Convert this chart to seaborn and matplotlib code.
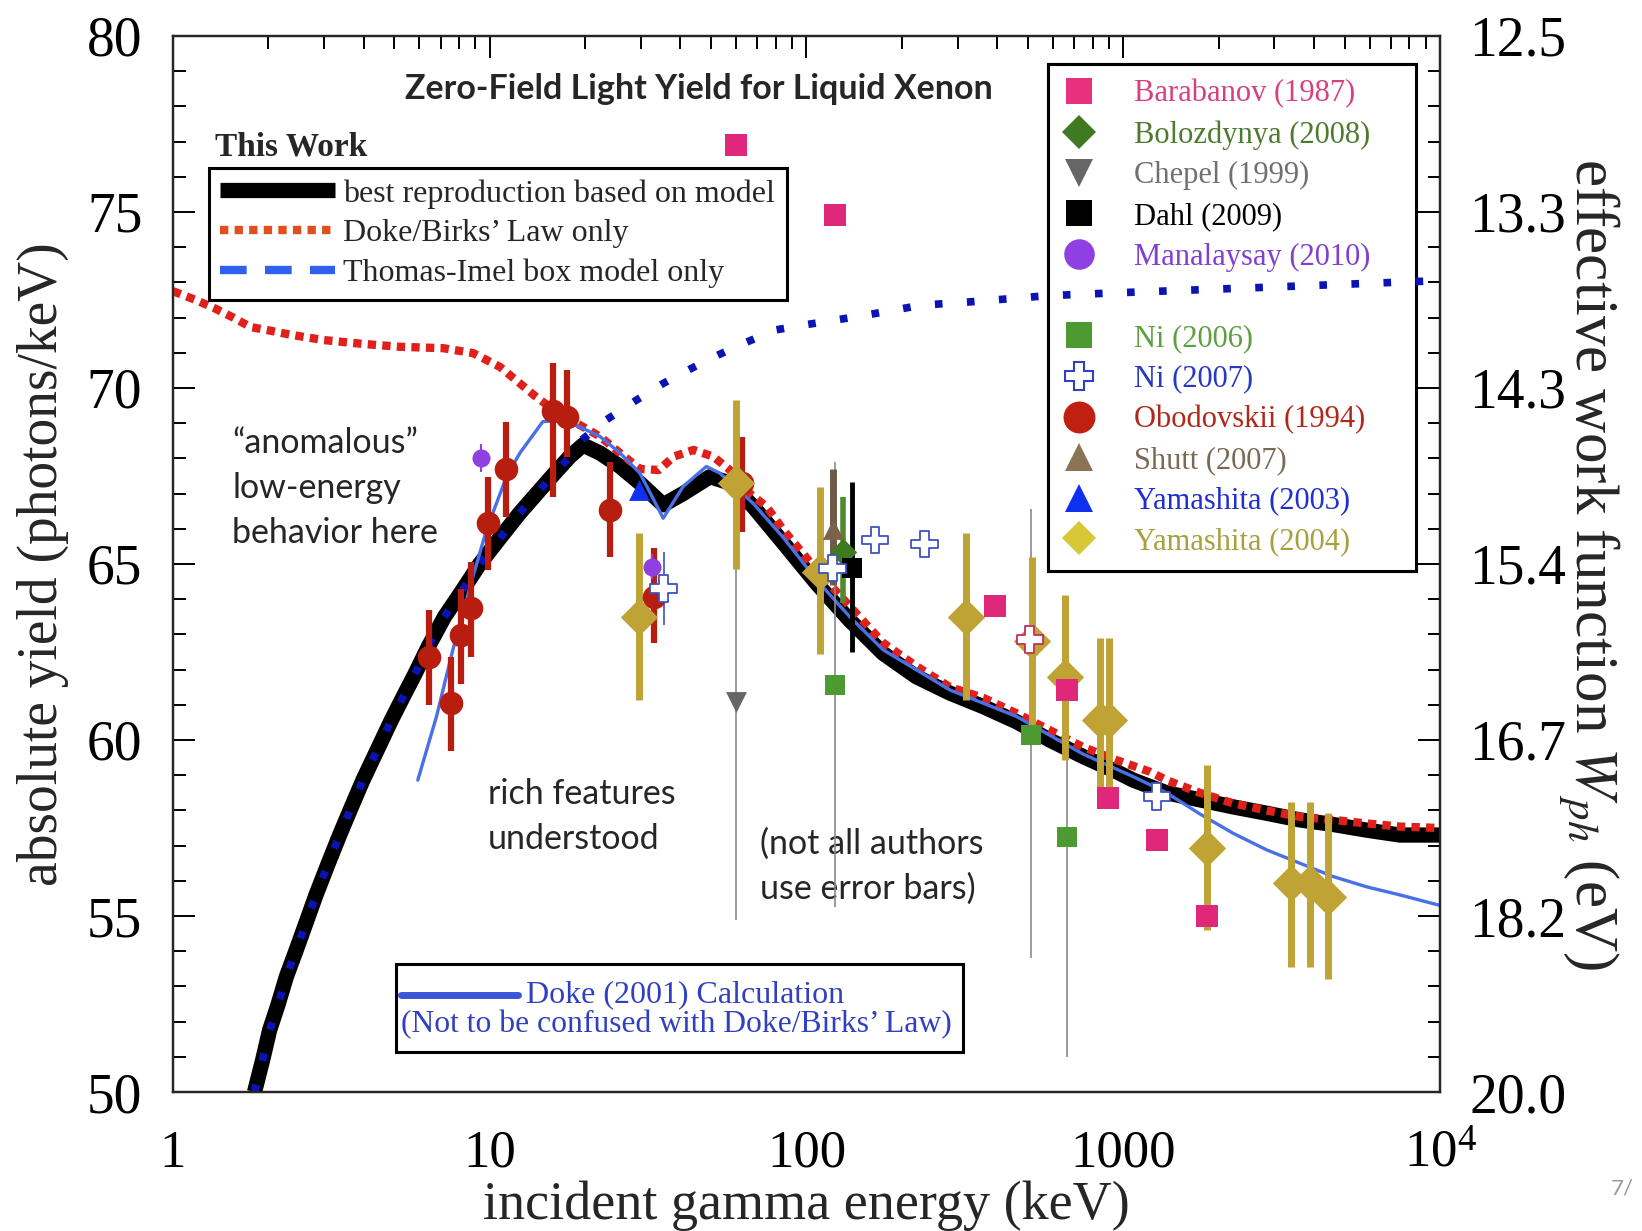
import numpy as np
import matplotlib
matplotlib.use("Agg")
import matplotlib.pyplot as plt
import seaborn as sns
from matplotlib.lines import Line2D
from matplotlib.patches import Rectangle
from matplotlib.ticker import LogLocator, NullFormatter, FixedLocator, MultipleLocator

# ---------------- data ----------------
best_x = [1.81, 1.92, 2.02, 2.15, 2.28, 2.45, 2.63, 2.83, 3.08, 3.36, 3.65, 3.98, 4.38, 4.89, 5.32, 5.79, 6.4, 7.2, 8.2,
          9.3, 10.8, 12.45, 14.4, 16.3, 17.9, 19.7, 22.3, 25.8, 29.8, 35.3, 40.8, 49.6, 57.3, 67.9, 84.5, 107.6, 137,
          174.6, 222, 284, 361, 460, 586, 747, 952, 1075, 1370, 1745, 2223, 2833, 3610, 4600, 5860, 7466, 10000]
best_y = [50.0, 50.91, 51.76, 52.5, 53.27, 54.03, 54.8, 55.6, 56.45, 57.3, 58.07, 58.86, 59.65, 60.56, 61.21, 61.85,
          62.65, 63.5, 64.25, 65.0, 65.75, 66.45, 67.1, 67.65, 68.05, 68.38, 68.15, 67.77, 67.3, 66.68, 67.0, 67.48,
          67.3, 66.63, 65.6, 64.45, 63.4, 62.46, 61.8, 61.33, 60.95, 60.52, 60.0, 59.53, 59.1, 58.86, 58.5, 58.3, 58.1,
          57.92, 57.73, 57.6, 57.44, 57.3, 57.3]

birks_x = [1.0, 1.18, 1.35, 1.55, 1.76, 2.05, 2.39, 3.0, 4.0, 5.2, 7.14, 8.87, 10.77, 12.45, 14.0, 15.9, 18.8, 22.3, 25.8,
           29.8, 34.2, 38.1, 44, 50.8, 57.3, 66.3, 74.8, 84.5, 107.6, 137, 174.6, 222, 284, 361, 460, 586, 747, 952,
           1213, 1370, 1745, 2223, 2833, 3610, 4600, 5860, 7466, 10000]
birks_y = [72.75, 72.5, 72.27, 72.0, 71.73, 71.62, 71.5, 71.36, 71.25, 71.17, 71.13, 70.99, 70.6, 70.13, 69.75, 69.38,
           69.0, 68.62, 68.15, 67.7, 67.67, 68.05, 68.24, 68.05, 67.67, 67.0, 66.63, 65.97, 64.83, 63.8, 62.76, 62.1,
           61.5, 61.2, 60.76, 60.28, 59.8, 59.43, 59.1, 58.86, 58.5, 58.2, 58.0, 57.82, 57.73, 57.63, 57.54, 57.5]

ti_x = [1.81, 1.92, 2.02, 2.15, 2.28, 2.45, 2.63, 2.83, 3.08, 3.36, 3.65, 3.98, 4.38, 4.89, 5.32, 5.79, 6.4, 7.2, 8.2,
        9.3, 10.8, 12.45, 14.4, 16.3, 17.9, 19.2, 23.4, 29.1, 35.3, 43.4, 52.7, 64.6, 80, 100, 150, 230, 333, 573, 930,
        2637, 10000]
ti_y = [50.0, 50.91, 51.76, 52.5, 53.27, 54.03, 54.8, 55.6, 56.45, 57.3, 58.07, 58.86, 59.65, 60.56, 61.21, 61.85,
        62.65, 63.5, 64.25, 65.0, 65.75, 66.45, 67.1, 67.65, 68.05, 68.47, 69.1, 69.66, 70.13, 70.56, 70.94, 71.3,
        71.65, 71.8, 72.05, 72.35, 72.45, 72.62, 72.7, 72.85, 73.05]

doke_x = [5.93, 6.79, 7.65, 8.7, 9.77, 11.3, 12.45, 14.7, 16.7, 19.2, 22.3, 25.8, 29.8, 35.3, 40.8, 48.3, 53.3, 67.9,
          84.5, 107.6, 137, 174.6, 284, 460, 747, 1075, 1370, 1745, 2223, 2833, 3610, 4600, 5860, 7466, 10000]
doke_y = [58.86, 60.66, 62.56, 64.4, 65.97, 67.48, 68.15, 69.04, 69.1, 68.9, 68.62, 68.15, 67.58, 66.3, 67.2, 67.77,
          67.58, 66.72, 65.75, 64.55, 63.5, 62.56, 61.42, 60.67, 59.6, 58.96, 58.5, 57.9, 57.35, 56.88, 56.5, 56.12,
          55.83, 55.6, 55.3]

obo_x = [6.42, 7.53, 8.12, 8.7, 9.9, 11.24, 15.85, 17.5, 23.9, 33.0, 62.6]
obo_y = [62.37, 61.05, 62.98, 63.75, 66.17, 67.7, 69.35, 69.18, 66.53, 64.07, 67.3]
obo_lo = [61.0, 59.7, 61.6, 62.37, 64.83, 66.34, 66.9, 68.05, 65.2, 62.76, 65.9]
obo_hi = [63.7, 62.36, 64.3, 65.07, 67.48, 69.04, 70.72, 70.51, 67.9, 65.45, 68.62]

bar_x = [59.9, 122.6, 395, 662, 896, 1279, 1844]
bar_y = [76.9, 74.9, 63.8, 61.42, 58.34, 57.16, 55.0]

bol_x = [130.4]
bol_y = [65.35]
bol_lo = [63.88]
bol_hi = [66.9]

che_x = [59.9]
che_y = [61.09]
che_lo = [54.9]
che_hi = [67.2]

dahl_x = [139.6]
dahl_y = [64.88]
dahl_lo = [62.51]
dahl_hi = [67.34]

man_x = [9.4, 32.5]
man_y = [68.0, 64.92]
man_lo = [67.6, 64.57]
man_hi = [68.4, 65.27]

ni6_x = [122.9, 512, 662]
ni6_y = [61.56, 60.14, 57.25]
ni6_lo = [55.26, 53.8, 51.0]
ni6_hi = [67.9, 66.57, 63.6]

ni7_x = [35.4, 120.7, 164.6, 236, 507, 1276]
ni7_y = [64.3, 64.88, 65.68, 65.57, 62.86, 58.39]
ni7_lo = [63.27, 64.88, 65.68, 65.57, 62.86, 58.39]
ni7_hi = [65.35, 64.88, 65.68, 65.57, 62.86, 58.39]

shu_x = [121]
shu_y = [66.0]
shu_lo = [64.4]
shu_hi = [67.7]

y03_x = [29.5]
y03_y = [67.1]

y04_x = [29.5, 59.9, 110.6, 318, 516, 656, 844, 901, 1834, 3392, 3900, 4430]
y04_y = [63.5, 67.3, 64.78, 63.5, 62.8, 61.8, 60.57, 60.57, 56.93, 55.93, 55.93, 55.55]
y04_lo = [61.14, 64.86, 62.44, 61.14, 60.4, 59.43, 58.2, 58.2, 54.6, 53.56, 53.56, 53.2]
y04_hi = [65.88, 69.66, 67.2, 65.87, 65.2, 64.12, 62.9, 62.9, 59.3, 58.25, 58.25, 57.92]

x_ticks = [1, 10, 100, 1000, 10000]
x_tick_labels = ["1", "10", "100", "1000", r"$\mathregular{10^4}$"]
y_ticks = [50, 55, 60, 65, 70, 75, 80]

legend_names = ["Barabanov (1987)", "Bolozdynya (2008)", "Chepel (1999)", "Dahl (2009)", "Manalaysay (2010)",
                "Ni (2006)", "Ni (2007)", "Obodovskii (1994)", "Shutt (2007)", "Yamashita (2003)", "Yamashita (2004)"]

# ---------------- style ----------------
sns.set_theme(style="white")
plt.rcParams["font.family"] = ["Liberation Serif", "DejaVu Serif"]
plt.rcParams["mathtext.fontset"] = "stix"
SANS = ["Lato", "DejaVu Sans"]

fig = plt.figure(figsize=(16.42, 12.31), dpi=100)
ax = fig.add_axes([0.1053, 0.1129, 0.7717, 0.8579])
ax.set_xscale("log")

# curves
l = sns.lineplot(x=best_x, y=best_y, ax=ax, color="black", linewidth=11, estimator=None, sort=False, zorder=2).lines[-1]
l.set_solid_capstyle("butt")
l.set_solid_joinstyle("round")
l = sns.lineplot(x=birks_x, y=birks_y, ax=ax, color="#E0201A", linewidth=6, estimator=None, sort=False, zorder=3).lines[-1]
l.set_dashes((1, 0.75))
l = sns.lineplot(x=ti_x, y=ti_y, ax=ax, color="#0A14B4", linewidth=5.5, estimator=None, sort=False, zorder=3).lines[-1]
l.set_dashes((1, 3.2))
l = sns.lineplot(x=doke_x, y=doke_y, ax=ax, color="#4A70E8", linewidth=2.4, estimator=None, sort=False, zorder=4).lines[-1]
l.set_solid_joinstyle("round")


def ebar(x, y, lo, hi, color, lw):
    y = np.array(y); lo = np.array(lo); hi = np.array(hi)
    ax.errorbar(x, y, yerr=[y - lo, hi - y], fmt="none", ecolor=color, elinewidth=lw, capsize=0, zorder=5)


def pts(x, y, marker, color, size, edge=None, lw=0):
    sns.scatterplot(x=x, y=y, ax=ax, marker=marker, color=color, s=size ** 2,
                    edgecolor=edge if edge is not None else color, linewidth=lw, zorder=6, legend=False)


ebar(che_x, che_y, che_lo, che_hi, "#8a8a8a", 1.2)
ebar(ni6_x, ni6_y, ni6_lo, ni6_hi, "#8a8a8a", 1.2)
ebar(obo_x, obo_y, obo_lo, obo_hi, "#B81E10", 4.5)
ebar(y04_x, y04_y, y04_lo, y04_hi, "#BFA334", 5)
ebar(bol_x, bol_y, bol_lo, bol_hi, "#4E8A2E", 4)
ebar(shu_x, shu_y, shu_lo, shu_hi, "#6E5A48", 5)
ebar(dahl_x, dahl_y, dahl_lo, dahl_hi, "#000000", 3.5)
ebar(man_x, man_y, man_lo, man_hi, "#9040E0", 1.5)
ebar(ni7_x, ni7_y, ni7_lo, ni7_hi, "#4050C0", 1.2)

pts(obo_x, obo_y, "o", "#B81E10", 17)
pts(man_x, man_y, "o", "#9040E0", 13)
pts(y03_x, y03_y, "^", "#1030F0", 15)
pts(che_x, che_y, "v", "#666666", 15)
pts(y04_x, y04_y, "D", "#BFA334", 19)
pts(shu_x, shu_y, "^", "#7B6248", 15)
pts(bol_x, bol_y, "D", "#3F7A22", 14)
pts(dahl_x, dahl_y, "s", "#000000", 15)
pts(ni6_x, ni6_y, "s", "#4E9A32", 15)
pts(bar_x, bar_y, "s", "#E0287A", 16)
sns.scatterplot(x=ni7_x, y=ni7_y, ax=ax, marker="P", color="white", s=19 ** 2,
                edgecolor=["#4050C0", "#4050C0", "#4050C0", "#4050C0", "#C03060", "#4050C0"],
                linewidth=1.3, zorder=7, legend=False)

# axes
ax.set_xlim(1, 10000)
ax.set_ylim(50, 80)
ax.xaxis.set_major_locator(FixedLocator(x_ticks))
ax.set_xticklabels(x_tick_labels)
ax.xaxis.set_minor_locator(LogLocator(base=10, subs=np.arange(2, 10)))
ax.xaxis.set_minor_formatter(NullFormatter())
ax.yaxis.set_major_locator(FixedLocator(y_ticks))
ax.yaxis.set_minor_locator(MultipleLocator(1))
for sp in ax.spines.values():
    sp.set_linewidth(1.6)
    sp.set_color("black")
ax.tick_params(which="both", direction="in", top=True, right=False, colors="black", width=1.4)
ax.tick_params(which="major", length=16)
ax.tick_params(which="minor", length=9)
ax.tick_params(axis="x", which="major", labelsize=38, pad=27)
ax.tick_params(axis="y", which="major", labelsize=40, pad=22)
ax.set_xlabel("incident gamma energy (keV)", fontsize=39, labelpad=2)
ax.set_ylabel("absolute yield (photons/keV)", fontsize=40, labelpad=13)

ax2 = ax.twinx()
ax2.set_ylim(50, 80)
ax2.yaxis.set_major_locator(FixedLocator(y_ticks))
ax2.set_yticklabels([f"{1000 / v:.1f}" for v in y_ticks])
ax2.yaxis.set_minor_locator(MultipleLocator(1))
ax2.tick_params(which="both", direction="in", colors="black", width=1.4)
ax2.tick_params(which="major", length=16, labelsize=40, pad=21)
ax2.tick_params(which="minor", length=9)
ax2.set_ylabel(r"effective work function $W_{ph}$ (eV)", fontsize=44, rotation=270, labelpad=40)
for sp in ax2.spines.values():
    sp.set_linewidth(1.6)
ax2.grid(False)
ax.grid(False)

# title & annotations
ax.text(0.4148, 0.9498, "Zero-Field Light Yield for Liquid Xenon", transform=ax.transAxes, ha="center", va="center",
        fontsize=24.5, fontweight="bold", family=SANS)
ax.text(0.047, 0.572, "\u201canomalous\u201d\nlow-energy\nbehavior here", transform=ax.transAxes, ha="left",
        va="center", fontsize=24.5, family=SANS, linespacing=1.5)
ax.text(0.2486, 0.261, "rich features\nunderstood", transform=ax.transAxes, ha="left", va="center",
        fontsize=24.5, family=SANS, linespacing=1.5)
ax.text(0.463, 0.2135, "(not all authors\nuse error bars)", transform=ax.transAxes, ha="left", va="center",
        fontsize=24.5, family=SANS, linespacing=1.5)

# legend 1 (This Work)
ax.text(0.0331, 0.8945, "This Work", transform=ax.transAxes, ha="left", va="center", fontsize=24, fontweight="bold")
h1 = [Line2D([], [], color="black", linewidth=11, solid_capstyle="butt"),
      Line2D([], [], color="#E0501E", linewidth=6, dashes=(1, 0.75)),
      Line2D([], [], color="#3060F0", linewidth=6, dashes=(3.2, 2.2))]
leg1 = ax.legend(h1, ["best reproduction based on model", "Doke/Birks\u2019 Law only", "Thomas-Imel box model only"],
                 loc="upper left", bbox_to_anchor=(0.0284, 0.8754), borderaxespad=0, fontsize=23, frameon=True,
                 fancybox=False, edgecolor="black", framealpha=1, handlelength=3.6, handletextpad=0.25,
                 labelspacing=0.33, borderpad=0.36)
leg1.get_frame().set_linewidth(2.2)
ax.add_artist(leg1)

# legend 2 (data sets)
def mh(marker, fc, ec=None, ms=19, mew=0):
    return Line2D([], [], linestyle="none", marker=marker, markerfacecolor=fc,
                  markeredgecolor=ec if ec else fc, markersize=ms, markeredgewidth=mew)

h2 = [mh("s", "#E8307E"), mh("D", "#3F7A22", ms=17), mh("v", "#666666", ms=20), mh("s", "#000000"),
      mh("o", "#9040E0", ms=22),
      Line2D([], [], linestyle="none"),
      mh("s", "#4E9A32"), mh("P", "white", "#3040C0", ms=20, mew=1.5), mh("o", "#C02010", ms=23),
      mh("^", "#8B7355", ms=20), mh("^", "#1030F0", ms=20), mh("D", "#D8C838", ms=17)]
labels2 = legend_names[:5] + [" "] + legend_names[5:]
labels2[1] = labels2[1] + "    "
colors2 = ["#D8407F", "#4E7A2E", "#707070", "#000000", "#8040D0", "white",
           "#5EA040", "#2838C0", "#B02818", "#7A6A55", "#2030D0", "#A8A040"]
leg2 = ax.legend(h2, labels2, loc="upper left", bbox_to_anchor=(0.691, 0.9735), borderaxespad=0, fontsize=22,
                 frameon=True, fancybox=False, edgecolor="black", framealpha=1, handlelength=1.0,
                 handletextpad=1.3, labelspacing=0.38, borderpad=0.5, labelcolor=colors2)
leg2.get_frame().set_linewidth(2.2)
leg2.set_zorder(1)
ax.add_artist(leg2)

# legend 3 (Doke 2001)
ax.add_patch(Rectangle((0.176, 0.0379), 0.4475, 0.0833, transform=ax.transAxes, fill=True, facecolor="white",
                       edgecolor="black", linewidth=2.2, zorder=8))
ax.plot([0.18, 0.2723], [0.0919, 0.0919], transform=ax.transAxes, color="#3A55D8", linewidth=5, zorder=9)
ax.text(0.2784, 0.0919, "Doke (2001) Calculation", transform=ax.transAxes, ha="left", va="center", fontsize=23,
        color="#3040C0", zorder=9)
ax.text(0.18, 0.0634, "(Not to be confused with Doke/Birks\u2019 Law)", transform=ax.transAxes, ha="left",
        va="center", fontsize=22.8, color="#3040C0", zorder=9)

ax.set_xlim(1, 10000)
ax.set_ylim(50, 80)

fig.text(0.981, 0.03, "7/", fontsize=16, color="#999999", family=SANS)

fig.savefig("out.png", dpi=100)
